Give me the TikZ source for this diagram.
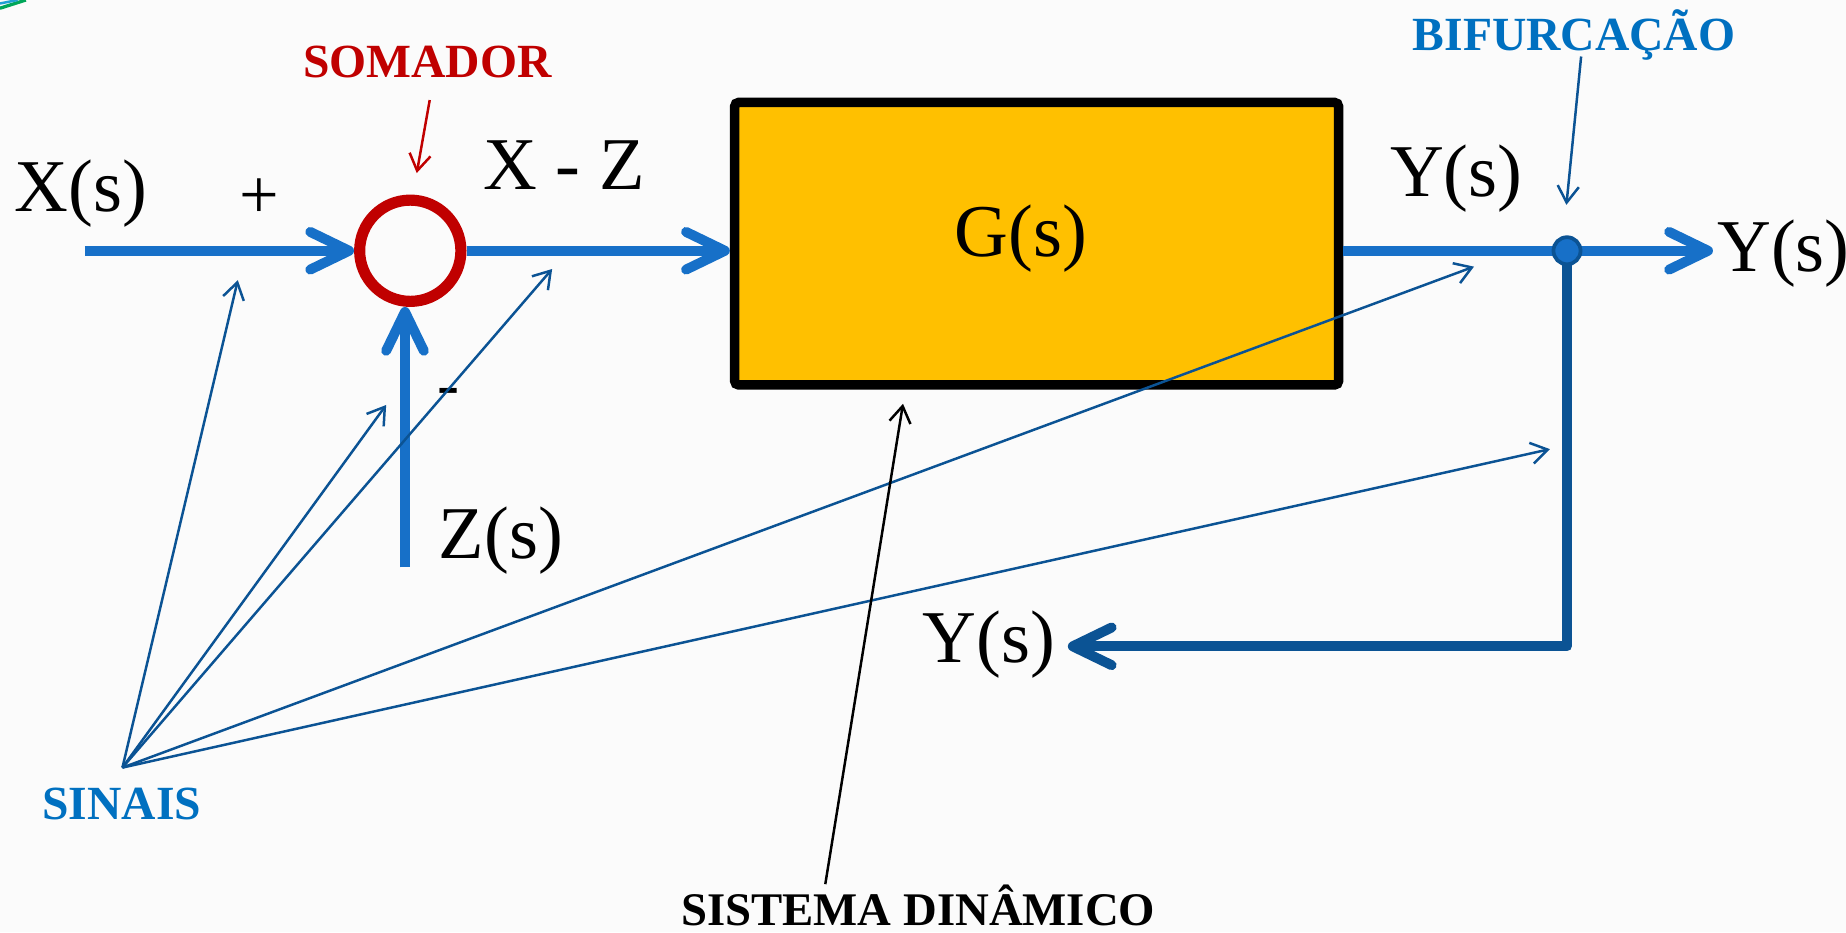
\documentclass[tikz,border=0pt]{standalone}
\usepackage{fontspec}
\setmainfont{Liberation Serif}
\usepackage{tikz}
\usetikzlibrary{arrows.meta}
\definecolor{sigblue}{RGB}{23,112,200}
\definecolor{fbblue}{RGB}{11,83,148}
\definecolor{somred}{RGB}{192,0,0}
\definecolor{lblblue}{RGB}{0,112,192}
\definecolor{boxyellow}{RGB}{255,192,0}

\begin{document}
\begin{tikzpicture}[
    sig/.style={font=\fontsize{18}{18}\selectfont, inner sep=0pt},
    tag/.style={font=\fontsize{11.5}{12}\selectfont\bfseries, inner sep=0pt},
    flow/.style={sigblue, line width=2.4pt, line join=round,
        -{Straight Barb[length=3.3mm,width=3.2mm,round]}},
    pointer/.style={fbblue, line width=0.6pt, -{Straight Barb[length=1.4mm,width=1.8mm]}},
]
    % --- BACKGROUND ---
    \fill[gray!3] (0,0) rectangle (15.68,-7.92);
    \useasboundingbox (0,0) rectangle (15.68,-7.92);
    \draw[teal!70!green, line width=0.8pt] (0,-0.07) -- (0.22,0);
    \draw[cyan!70!teal, line width=0.6pt] (0,-0.03) -- (0.15,0);

    % --- BLOCKS ---
    \node[circle, draw=somred, line width=2.7pt, minimum size=0.86cm, inner sep=0pt] (sum) at (3.485,-2.13) {};
    \node[draw=black, fill=boxyellow, line width=2.3pt, rounded corners=1pt,
          minimum width=5.13cm, minimum height=2.40cm, inner sep=0pt] (plant) at (8.805,-2.07) {};

    % --- SIGNALS ---
    \coordinate (xin) at (0.72,-2.13);
    \coordinate (zin) at (3.44,-4.82);
    \coordinate (bifpt) at (13.31,-2.13);
    \coordinate (yout) at (14.55,-2.13);
    \coordinate (corner) at (13.31,-5.49);
    \coordinate (yback) at (9.07,-5.49);
    \draw[flow] (xin) -- (sum.west);
    \draw[flow] (sum.east) -- (sum.east -| plant.west);
    \draw[flow] (zin) -- (zin |- sum.south);
    \draw[sigblue, line width=2.4pt] (plant.east |- bifpt) -- (bifpt);
    \draw[flow] (bifpt) -- (yout);
    \draw[flow, fbblue] (bifpt) -- (corner) -- (yback);
    \node[circle, draw=fbblue, fill=sigblue, line width=0.9pt, minimum size=0.23cm, inner sep=0pt] (bif) at (bifpt) {};

    % --- LABELS ---
    \node[sig, anchor=base west] (xs) at (0.12,-1.80) {X(s)};
    \node[sig, anchor=base west] (xz) at (4.10,-1.61) {X - Z};
    \node[sig, anchor=base west] (gs) at (8.10,-2.18) {G(s)};
    \node[sig, anchor=base west] (ys1) at (11.80,-1.67) {Y(s)};
    \node[sig, anchor=base west] (ys2) at (14.58,-2.31) {Y(s)};
    \node[sig, anchor=base west] (ys3) at (7.83,-5.63) {Y(s)};
    \node[sig, anchor=base west] (zs) at (3.72,-4.74) {Z(s)};
    \node[font=\fontsize{17}{17}\selectfont, inner sep=0pt] (plus) at (2.20,-1.69) {+};
    \node[font=\fontsize{16}{16}\selectfont, inner sep=0pt] (minus) at (3.81,-3.38) {-};

    \node[tag, somred, anchor=base] (somador) at (3.63,-0.66) {SOMADOR};
    \node[tag, lblblue, anchor=base] (bifurc) at (13.37,-0.425) {BIFURCAÇÃO};
    \node[tag, lblblue, anchor=base] (sinais) at (1.035,-6.96) {SINAIS};
    \node[tag, anchor=base, font=\fontsize{11.3}{12}\selectfont\bfseries] (sistema) at (7.80,-7.86) {SISTEMA DINÂMICO};

    % --- POINTERS ---
    \coordinate (src) at (1.04,-6.52);
    \coordinate (ta) at (2.02,-2.38);
    \coordinate (tb) at (3.28,-3.44);
    \coordinate (tc) at (4.69,-2.285);
    \coordinate (td) at (12.52,-2.265);
    \coordinate (te) at (13.165,-3.815);
    \foreach \p in {ta,tb,tc,td,te}
        \draw[pointer] (src) -- (\p);
    \coordinate (sompt) at (3.54,-1.47);
    \draw[pointer, somred] ([xshift=0.2mm,yshift=-1.9mm]somador.base) -- (sompt);
    \coordinate (bifptr) at (13.305,-1.74);
    \draw[pointer] ([xshift=0.6mm,yshift=-0.55mm]bifurc.base) -- (bifptr);
    \coordinate (sysfoot) at (7.01,-7.51);
    \coordinate (systip) at (7.67,-3.43);
    \draw[pointer, black] (sysfoot) -- (systip);
\end{tikzpicture}
\end{document}
